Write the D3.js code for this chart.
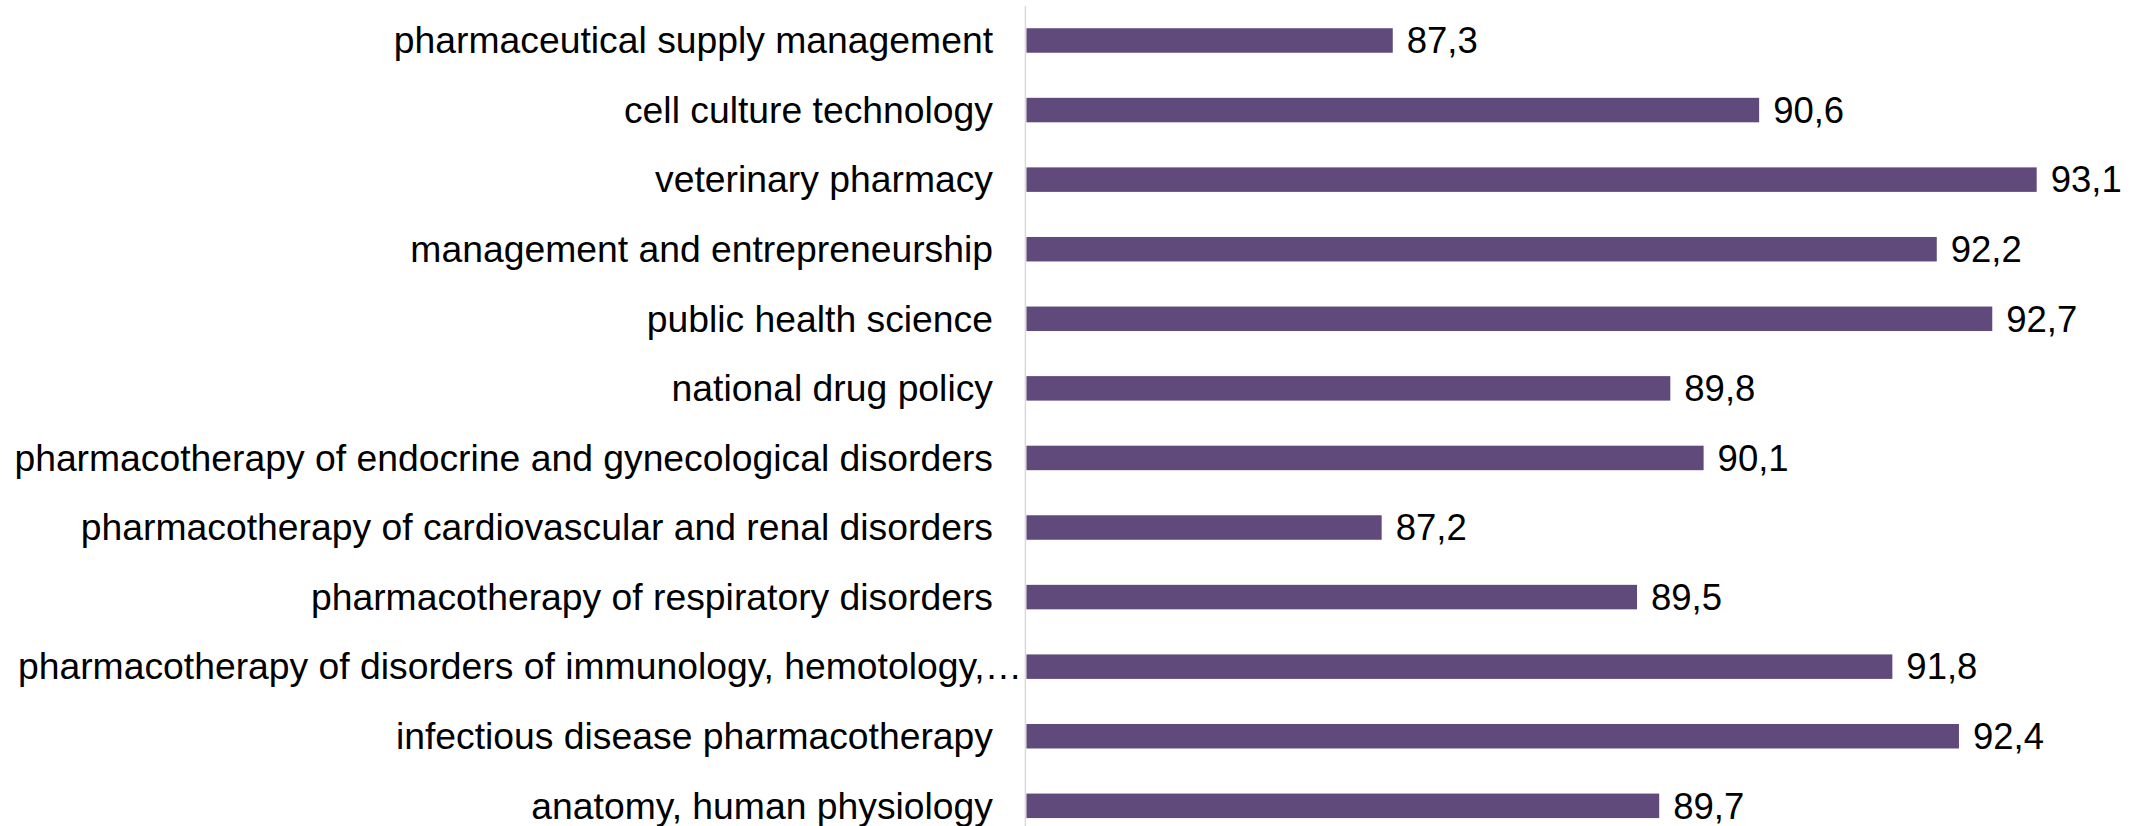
<!DOCTYPE html>
<html><head><meta charset="utf-8">
<script src="https://cdn.jsdelivr.net/npm/d3@7"></script>
<style>html,body{margin:0;padding:0;background:#fff;overflow:hidden}</style>
</head><body>
<svg id="chart" width="2133" height="826"></svg>
<script>
const categories = [
  "pharmaceutical supply management",
  "cell culture technology",
  "veterinary pharmacy",
  "management and entrepreneurship",
  "public health science",
  "national drug policy",
  "pharmacotherapy of endocrine and gynecological disorders",
  "pharmacotherapy of cardiovascular and renal disorders",
  "pharmacotherapy of respiratory disorders",
  "pharmacotherapy of disorders of immunology, hemotology,…",
  "infectious disease pharmacotherapy",
  "anatomy, human physiology"
];
const values = [87.3, 90.6, 93.1, 92.2, 92.7, 89.8, 90.1, 87.2, 89.5, 91.8, 92.4, 89.7];
const xDomain = [84, 94];

const svg = d3.select("#chart");
const x = d3.scaleLinear().domain(xDomain).range([1026.4, 2136.6]);
const y = d3.scaleBand().domain(categories).range([5.7, 840.6]).paddingInner(0.648).paddingOuter(0.324);
const font = "'Liberation Sans', Arial, sans-serif";

// bars
svg.selectAll("rect.bar").data(values).enter().append("rect")
  .attr("class","bar")
  .attr("x", x(xDomain[0]))
  .attr("y", (d,i) => y(categories[i]))
  .attr("width", d => x(d) - x(xDomain[0]))
  .attr("height", y.bandwidth())
  .attr("fill", "#604a7b");

// axis line
svg.append("line")
  .attr("x1", x(xDomain[0]) - 1).attr("x2", x(xDomain[0]) - 1)
  .attr("y1", 6).attr("y2", 826)
  .attr("stroke", "#d9d9d9").attr("stroke-width", 1.5);

// category labels
svg.selectAll("text.cat").data(categories).enter().append("text")
  .attr("class","cat")
  .attr("x", (d,i) => i === 9 ? 1022 : 993)
  .attr("y", d => y(d) + y.bandwidth()/2 + 12.8)
  .attr("text-anchor", "end")
  .attr("font-family", font).attr("font-size", 37.3).attr("fill", "#000")
  .text(d => d);

// value labels
const fmt = v => v.toFixed(1).replace(".", ",");
svg.selectAll("text.val").data(values).enter().append("text")
  .attr("class","val")
  .attr("x", d => x(d) + 14)
  .attr("y", (d,i) => y(categories[i]) + y.bandwidth()/2 + 12.8)
  .attr("font-family", font).attr("font-size", 36.5).attr("fill", "#000")
  .text(fmt);
</script>
</body></html>
